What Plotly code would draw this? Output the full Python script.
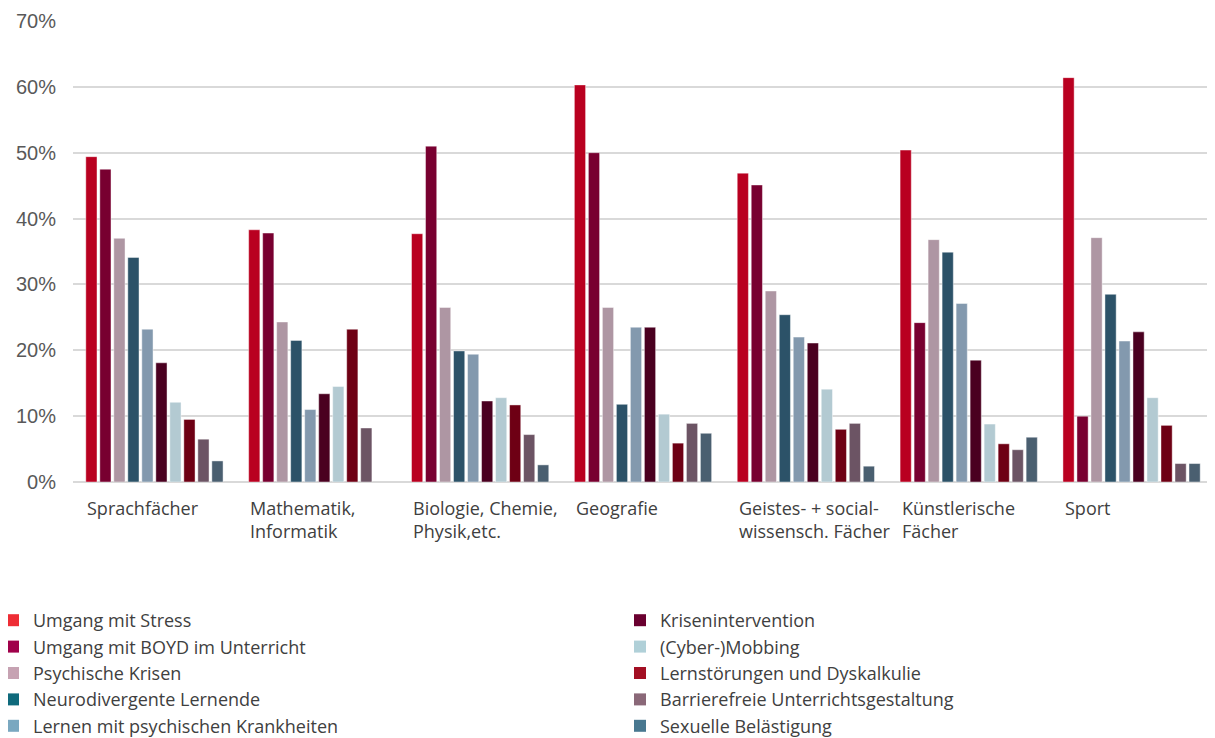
import plotly.graph_objects as go

TEXT_FONT = "Open Sans, Noto Sans, sans-serif"
TICK_FONT = "Liberation Sans, Arial, sans-serif"

categories = [
    "Sprachfächer",
    "Mathematik,<br>Informatik",
    "Biologie, Chemie,<br>Physik,etc.",
    "Geografie",
    "Geistes- + social-<br>wissensch. Fächer",
    "Künstlerische<br>Fächer",
    "Sport",
]

series_names = [
    "Umgang mit Stress",
    "Umgang mit BOYD im Unterricht",
    "Psychische Krisen",
    "Neurodivergente Lernende",
    "Lernen mit psychischen Krankheiten",
    "Krisenintervention",
    "(Cyber-)Mobbing",
    "Lernstörungen und Dyskalkulie",
    "Barrierefreie Unterrichtsgestaltung",
    "Sexuelle Belästigung",
]

# one list per series, values in % per category
stress = [49.4, 38.3, 37.7, 60.3, 46.9, 50.4, 61.4]
boyd = [47.5, 37.8, 51.0, 50.0, 45.1, 24.2, 10.0]
psych_krisen = [37.0, 24.3, 26.5, 26.5, 29.0, 36.8, 37.1]
neurodivergent = [34.1, 21.5, 19.9, 11.8, 25.4, 34.9, 28.5]
psych_krankheiten = [23.2, 11.0, 19.4, 23.5, 22.0, 27.1, 21.4]
krisenintervention = [18.1, 13.4, 12.3, 23.5, 21.1, 18.5, 22.8]
mobbing = [12.1, 14.5, 12.8, 10.3, 14.1, 8.8, 12.8]
lernstoerungen = [9.5, 23.2, 11.7, 5.9, 8.0, 5.8, 8.6]
barrierefrei = [6.5, 8.2, 7.2, 8.9, 8.9, 4.9, 2.8]
belaestigung = [3.2, None, 2.6, 7.4, 2.4, 6.8, 2.8]

series_values = [
    stress, boyd, psych_krisen, neurodivergent, psych_krankheiten,
    krisenintervention, mobbing, lernstoerungen, barrierefrei, belaestigung,
]

bar_colors = [
    "#b90020", "#780030", "#ae96a3", "#2c5268", "#8399ae",
    "#4a0020", "#b3cad2", "#6e0014", "#6c5464", "#4a5f70",
]
legend_colors = [
    "#ee2d35", "#a0004a", "#c6a2b2", "#0f6a7c", "#7aa8c0",
    "#6a0030", "#b0d0d8", "#a30f23", "#8a6878", "#487890",
]

y_ticks = [0, 10, 20, 30, 40, 50, 60, 70]
y_tick_text = [f"{v}%" for v in y_ticks]

fig = go.Figure()

for name, vals, col in zip(series_names, series_values, bar_colors):
    fig.add_trace(go.Bar(
        x=categories,
        y=vals,
        name=name,
        legendgroup=name,
        showlegend=False,
        marker_color=col,
        marker_line_color="rgba(255,255,255,0.55)",
        marker_line_width=0.8,
        hovertemplate="%{y:.1f}%<extra>" + name + "</extra>",
    ))

# legend swatches (legend colours differ from bar colours in the original)
for i, (name, col) in enumerate(zip(series_names, legend_colors)):
    fig.add_trace(go.Scatter(
        x=[None], y=[None],
        mode="markers",
        name=name,
        legendgroup=name,
        legend="legend" if i < 5 else "legend2",
        marker={"symbol": "square", "size": 12, "color": col},
        hoverinfo="skip",
    ))

# left-aligned category labels
for cat in categories:
    fig.add_annotation(
        x=cat, xref="x",
        y=0, yref="paper",
        text=cat,
        showarrow=False,
        xanchor="left", yanchor="top",
        align="left",
        xshift=-69, yshift=-12,
        font={"family": TEXT_FONT, "size": 18, "color": "#404040"},
    )

# the page body adds an 8px margin, so the figure is 8px smaller than the window
# plot area in figure pixels: x 65..1205, y 13..474
W, H = 1207, 730
PW, PH = 1140, 461
legend_common = {
    "font": {"family": TEXT_FONT, "size": 18, "color": "#404040"},
    "xanchor": "left", "yanchor": "top",
    "tracegroupgap": 0,
    "bgcolor": "rgba(0,0,0,0)",
}

fig.update_layout(
    width=W,
    height=H,
    margin={"l": 65, "r": 2, "t": 13, "b": 256, "autoexpand": False},
    paper_bgcolor="white",
    plot_bgcolor="white",
    barmode="group",
    bargap=0.14,
    bargroupgap=0.2,
    showlegend=True,
    legend={**legend_common, "x": (-15 - 65) / PW, "y": (474 - 594) / PH},
    legend2={**legend_common, "x": (612 - 65) / PW, "y": (474 - 594) / PH},
    xaxis={
        "type": "category",
        "showticklabels": False,
        "showgrid": False,
        "showline": False,
        "zeroline": False,
    },
    yaxis={
        "range": [0, 70],
        "tickmode": "array",
        "tickvals": y_ticks,
        "ticktext": y_tick_text,
        "tickfont": {"family": TICK_FONT, "size": 20, "color": "#595959"},
        "gridcolor": "#d9d9d9",
        "gridwidth": 2,
        "zeroline": True,
        "zerolinecolor": "#d9d9d9",
        "zerolinewidth": 2,
        "ticks": "outside",
        "ticklen": 12,
        "tickcolor": "white",
        "fixedrange": True,
    },
)

fig.write_html("out.html")
